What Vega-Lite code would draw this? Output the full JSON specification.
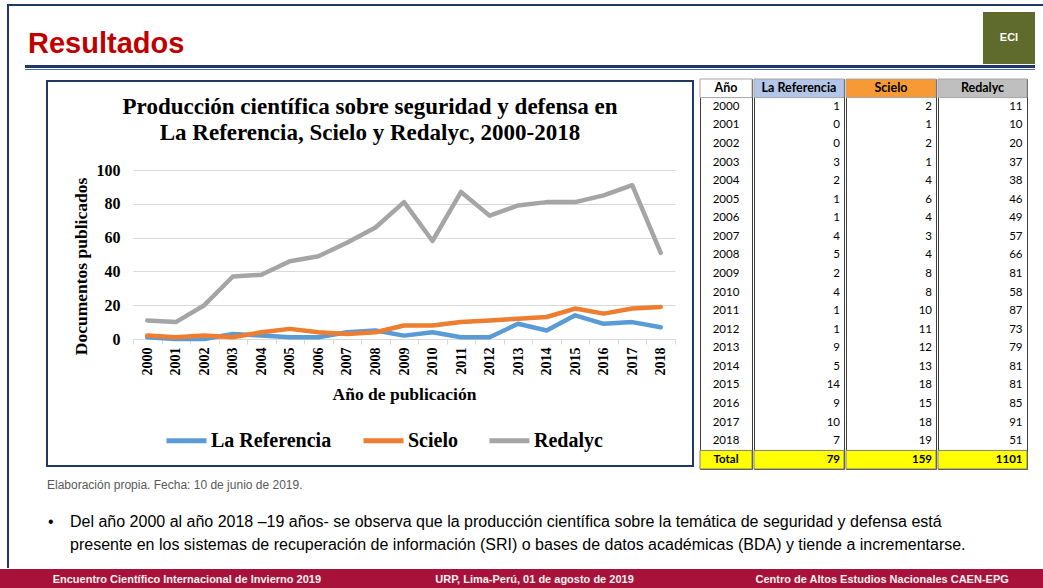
{
 "$schema": "https://vega.github.io/schema/vega-lite/v6.json",
 "padding": 0,
 "background": "#FFFFFF",
 "spacing": 0,
 "config": {"view": {"stroke": null}, "font": "Liberation Sans"},
 "datasets": {
  "produccion": [
   {"Año": "2000", "La Referencia": 1, "Scielo": 2, "Redalyc": 11},
   {"Año": "2001", "La Referencia": 0, "Scielo": 1, "Redalyc": 10},
   {"Año": "2002", "La Referencia": 0, "Scielo": 2, "Redalyc": 20},
   {"Año": "2003", "La Referencia": 3, "Scielo": 1, "Redalyc": 37},
   {"Año": "2004", "La Referencia": 2, "Scielo": 4, "Redalyc": 38},
   {"Año": "2005", "La Referencia": 1, "Scielo": 6, "Redalyc": 46},
   {"Año": "2006", "La Referencia": 1, "Scielo": 4, "Redalyc": 49},
   {"Año": "2007", "La Referencia": 4, "Scielo": 3, "Redalyc": 57},
   {"Año": "2008", "La Referencia": 5, "Scielo": 4, "Redalyc": 66},
   {"Año": "2009", "La Referencia": 2, "Scielo": 8, "Redalyc": 81},
   {"Año": "2010", "La Referencia": 4, "Scielo": 8, "Redalyc": 58},
   {"Año": "2011", "La Referencia": 1, "Scielo": 10, "Redalyc": 87},
   {"Año": "2012", "La Referencia": 1, "Scielo": 11, "Redalyc": 73},
   {"Año": "2013", "La Referencia": 9, "Scielo": 12, "Redalyc": 79},
   {"Año": "2014", "La Referencia": 5, "Scielo": 13, "Redalyc": 81},
   {"Año": "2015", "La Referencia": 14, "Scielo": 18, "Redalyc": 81},
   {"Año": "2016", "La Referencia": 9, "Scielo": 15, "Redalyc": 85},
   {"Año": "2017", "La Referencia": 10, "Scielo": 18, "Redalyc": 91},
   {"Año": "2018", "La Referencia": 7, "Scielo": 19, "Redalyc": 51}
  ],
  "pie": [
   {"posicion": "izquierda", "texto": "Encuentro Científico Internacional de Invierno 2019"},
   {"posicion": "centro", "texto": "URP, Lima-Perú, 01 de agosto de 2019"},
   {"posicion": "derecha", "texto": "Centro de Altos Estudios Nacionales CAEN-EPG"}
  ]
 },
 "vconcat": [
  {"width": 1043, "height": 4, "data": {"values": []}, "mark": "point", "encoding": {}},
  {"hconcat": [
    {"width": 7, "height": 2, "data": {"values": []}, "mark": "point", "encoding": {}},
    {"width": 1036, "height": 2, "view": {"fill": "#1F3864", "stroke": null}, "data": {"values": []}, "mark": "point", "encoding": {}}
   ], "spacing": 0},
  {"hconcat": [
    {"width": 7, "height": 562, "data": {"values": []}, "mark": "point", "encoding": {}},
    {"width": 2, "height": 562, "view": {"fill": "#1F3864", "stroke": null}, "data": {"values": []}, "mark": "point", "encoding": {}},
    {"vconcat": [
      {"hconcat": [
        {"width": 974, "height": 59, "data": {"values": []}, "mark": "point", "encoding": {},
         "title": {"text": "Resultados", "orient": "bottom", "anchor": "start", "frame": "group", "baseline": "top", "offset": -35, "dx": 19, "font": "Liberation Sans", "fontSize": 29, "fontWeight": "bold", "color": "#C00000"}},
        {"vconcat": [
          {"width": 52, "height": 6, "data": {"values": []}, "mark": "point", "encoding": {}},
          {"width": 52, "height": 52, "view": {"fill": "#5E6B2C", "stroke": null},
           "data": {"values": [{"sigla": "ECI"}]},
           "mark": {"type": "text", "font": "Liberation Sans", "fontSize": 11, "fontWeight": "bold", "color": "#FFFFFF"},
           "encoding": {"text": {"field": "sigla"}}}
         ], "spacing": 0}
       ], "spacing": 0},
      {"hconcat": [
        {"width": 16, "height": 3, "data": {"values": []}, "mark": "point", "encoding": {}},
        {"width": 1010, "height": 3, "view": {"fill": "#1F3864", "stroke": null}, "data": {"values": []}, "mark": "point", "encoding": {}}
       ], "spacing": 0},
      {"width": 1, "height": 1, "data": {"values": []}, "mark": "point", "encoding": {}},
      {"hconcat": [
        {"width": 16, "height": 1, "data": {"values": []}, "mark": "point", "encoding": {}},
        {"width": 1010, "height": 1, "view": {"fill": "#4A6DB0", "stroke": null}, "data": {"values": []}, "mark": "point", "encoding": {}}
       ], "spacing": 0},
      {"width": 1, "height": 7, "data": {"values": []}, "mark": "point", "encoding": {}},
      {"hconcat": [
        {"width": 30, "height": 390, "data": {"values": []}, "mark": "point", "encoding": {}},
        {"vconcat": [
          {"width": 646, "height": 1, "data": {"values": []}, "mark": "point", "encoding": {}},
          {"width": 646, "height": 385,
           "view": {"fill": "#FFFFFF", "stroke": "#1F3864", "strokeWidth": 2},
           "title": {"text": ["Producción científica sobre seguridad y defensa en", "La Referencia, Scielo y Redalyc, 2000-2018"], "orient": "bottom", "anchor": "middle", "frame": "group", "baseline": "top", "offset": -370, "lineHeight": 26, "font": "Liberation Serif", "fontSize": 23, "fontWeight": "bold", "color": "#000000"},
           "data": {"name": "produccion"},
           "transform": [{"fold": ["La Referencia", "Scielo", "Redalyc"], "as": ["Serie", "Documentos"]}],
           "mark": {"type": "line", "strokeWidth": 4.5, "strokeCap": "round", "strokeJoin": "round"},
           "encoding": {
            "x": {"field": "Año", "type": "ordinal", "bandPosition": 0.5,
                  "scale": {"type": "band", "range": [86, 628], "paddingInner": 0, "paddingOuter": 0},
                  "axis": {"title": "Año de publicación", "orient": "bottom", "offset": -127, "labelAngle": -90, "labelFont": "Liberation Serif", "labelFontSize": 14, "labelFontWeight": "bold", "labelColor": "#000000", "labelPadding": 3, "tickBand": "extent", "tickSize": 5, "tickColor": "#D9D9D9", "domainColor": "#D9D9D9", "domainWidth": 1, "grid": false, "titleFont": "Liberation Serif", "titleFontSize": 17.5, "titleFontWeight": "bold", "titleColor": "#000000", "titlePadding": 10}},
            "y": {"field": "Documentos", "type": "quantitative",
                  "scale": {"domain": [0, 100], "range": [258, 89], "nice": false},
                  "axis": {"title": "Documentos publicados", "offset": -86, "values": [0, 20, 40, 60, 80, 100], "grid": true, "gridColor": "#D9D9D9", "gridWidth": 1, "domain": false, "ticks": false, "labelPadding": 13, "labelFont": "Liberation Serif", "labelFontSize": 16, "labelFontWeight": "bold", "labelColor": "#000000", "titleFont": "Liberation Serif", "titleFontSize": 17.5, "titleFontWeight": "bold", "titleColor": "#000000", "titlePadding": 6, "titleY": 185}},
            "color": {"field": "Serie", "type": "nominal",
                  "scale": {"domain": ["La Referencia", "Scielo", "Redalyc"], "range": ["#5B9BD5", "#ED7D31", "#A5A5A5"]},
                  "legend": {"orient": "none", "legendX": 164, "legendY": 418, "direction": "horizontal", "title": null, "symbolType": "stroke", "symbolSize": 1600, "symbolStrokeWidth": 5, "labelFont": "Liberation Serif", "labelFontSize": 20, "labelFontWeight": "bold", "labelColor": "#000000", "labelOffset": 2, "columnPadding": 21, "padding": 0, "labelLimit": 300}}
           }}
         ], "spacing": 0},
        {"width": 5, "height": 390, "data": {"values": []}, "mark": "point", "encoding": {}},
        {"hconcat": [
          {"width": 52, "height": 390,
           "view": {"stroke": "#404040", "strokeWidth": 1, "fill": "#FFFFFF"},
           "data": {"name": "produccion"},
           "layer": [
            {"transform": [{"aggregate": [{"op": "count", "as": "n_a"}]}],
             "mark": {"type": "rect", "fill": "#FFFFFF", "stroke": "#A6A6A6", "strokeWidth": 1},
             "encoding": {"y": {"datum": "cabecera", "type": "ordinal", "axis": null}}},
            {"transform": [{"aggregate": [{"op": "count", "as": "n_b"}]}],
             "mark": {"type": "rect", "fill": "#FFFF00", "stroke": "#7F7F7F", "strokeWidth": 1},
             "encoding": {"y": {"datum": "Total", "type": "ordinal", "axis": null}}},
            {"transform": [{"aggregate": [{"op": "count", "as": "n_c"}]}],
             "mark": {"type": "text", "font": "Lato", "fontSize": 12.5, "fontWeight": "bold", "color": "#000000"},
             "encoding": {"y": {"datum": "cabecera", "type": "ordinal", "axis": null}, "text": {"value": "Año"}}},
            {"mark": {"type": "text", "font": "Lato", "fontSize": 11.5, "color": "#000000"},
             "encoding": {"y": {"field": "Año", "type": "ordinal", "axis": null, "scale": {"type": "band", "domain": ["cabecera", "2000", "2001", "2002", "2003", "2004", "2005", "2006", "2007", "2008", "2009", "2010", "2011", "2012", "2013", "2014", "2015", "2016", "2017", "2018", "Total"], "paddingInner": 0, "paddingOuter": 0}}, "text": {"field": "Año"}}},
            {"transform": [{"aggregate": [{"op": "count", "as": "n_d"}]}],
             "mark": {"type": "text", "font": "Lato", "fontSize": 11.5, "fontWeight": "bold", "color": "#000000"},
             "encoding": {"y": {"datum": "Total", "type": "ordinal", "axis": null}, "text": {"value": "Total"}}}
           ]},
          {"width": 90, "height": 390,
           "view": {"stroke": "#404040", "strokeWidth": 1, "fill": "#FFFFFF"},
           "data": {"name": "produccion"},
           "layer": [
            {"transform": [{"aggregate": [{"op": "count", "as": "n_e"}]}],
             "mark": {"type": "rect", "fill": "#B4C6E7", "stroke": "#A6A6A6", "strokeWidth": 1},
             "encoding": {"y": {"datum": "cabecera", "type": "ordinal", "axis": null}}},
            {"transform": [{"aggregate": [{"op": "count", "as": "n_f"}]}],
             "mark": {"type": "rect", "fill": "#FFFF00", "stroke": "#7F7F7F", "strokeWidth": 1},
             "encoding": {"y": {"datum": "Total", "type": "ordinal", "axis": null}}},
            {"transform": [{"aggregate": [{"op": "count", "as": "n_g"}]}],
             "mark": {"type": "text", "font": "Lato", "fontSize": 12.5, "fontWeight": "bold", "color": "#000000"},
             "encoding": {"y": {"datum": "cabecera", "type": "ordinal", "axis": null}, "text": {"value": "La Referencia"}}},
            {"mark": {"type": "text", "font": "Lato", "fontSize": 11.5, "align": "right", "dx": 41, "color": "#000000"},
             "encoding": {"y": {"field": "Año", "type": "ordinal", "axis": null, "scale": {"type": "band", "domain": ["cabecera", "2000", "2001", "2002", "2003", "2004", "2005", "2006", "2007", "2008", "2009", "2010", "2011", "2012", "2013", "2014", "2015", "2016", "2017", "2018", "Total"], "paddingInner": 0, "paddingOuter": 0}}, "text": {"field": "La Referencia", "type": "quantitative", "format": "d"}}},
            {"transform": [{"aggregate": [{"op": "sum", "field": "La Referencia", "as": "total_lr"}]}],
             "mark": {"type": "text", "font": "Lato", "fontSize": 11.5, "fontWeight": "bold", "align": "right", "dx": 41, "color": "#000000"},
             "encoding": {"y": {"datum": "Total", "type": "ordinal", "axis": null}, "text": {"field": "total_lr", "type": "quantitative", "format": "d"}}}
           ]},
          {"width": 90, "height": 390,
           "view": {"stroke": "#404040", "strokeWidth": 1, "fill": "#FFFFFF"},
           "data": {"name": "produccion"},
           "layer": [
            {"transform": [{"aggregate": [{"op": "count", "as": "n_h"}]}],
             "mark": {"type": "rect", "fill": "#F79A35", "stroke": "#A6A6A6", "strokeWidth": 1},
             "encoding": {"y": {"datum": "cabecera", "type": "ordinal", "axis": null}}},
            {"transform": [{"aggregate": [{"op": "count", "as": "n_i"}]}],
             "mark": {"type": "rect", "fill": "#FFFF00", "stroke": "#7F7F7F", "strokeWidth": 1},
             "encoding": {"y": {"datum": "Total", "type": "ordinal", "axis": null}}},
            {"transform": [{"aggregate": [{"op": "count", "as": "n_j"}]}],
             "mark": {"type": "text", "font": "Lato", "fontSize": 12.5, "fontWeight": "bold", "color": "#000000"},
             "encoding": {"y": {"datum": "cabecera", "type": "ordinal", "axis": null}, "text": {"value": "Scielo"}}},
            {"mark": {"type": "text", "font": "Lato", "fontSize": 11.5, "align": "right", "dx": 41, "color": "#000000"},
             "encoding": {"y": {"field": "Año", "type": "ordinal", "axis": null, "scale": {"type": "band", "domain": ["cabecera", "2000", "2001", "2002", "2003", "2004", "2005", "2006", "2007", "2008", "2009", "2010", "2011", "2012", "2013", "2014", "2015", "2016", "2017", "2018", "Total"], "paddingInner": 0, "paddingOuter": 0}}, "text": {"field": "Scielo", "type": "quantitative", "format": "d"}}},
            {"transform": [{"aggregate": [{"op": "sum", "field": "Scielo", "as": "total_sc"}]}],
             "mark": {"type": "text", "font": "Lato", "fontSize": 11.5, "fontWeight": "bold", "align": "right", "dx": 41, "color": "#000000"},
             "encoding": {"y": {"datum": "Total", "type": "ordinal", "axis": null}, "text": {"field": "total_sc", "type": "quantitative", "format": "d"}}}
           ]},
          {"width": 89, "height": 390,
           "view": {"stroke": "#404040", "strokeWidth": 1, "fill": "#FFFFFF"},
           "data": {"name": "produccion"},
           "layer": [
            {"transform": [{"aggregate": [{"op": "count", "as": "n_k"}]}],
             "mark": {"type": "rect", "fill": "#BFBFBF", "stroke": "#A6A6A6", "strokeWidth": 1},
             "encoding": {"y": {"datum": "cabecera", "type": "ordinal", "axis": null}}},
            {"transform": [{"aggregate": [{"op": "count", "as": "n_l"}]}],
             "mark": {"type": "rect", "fill": "#FFFF00", "stroke": "#7F7F7F", "strokeWidth": 1},
             "encoding": {"y": {"datum": "Total", "type": "ordinal", "axis": null}}},
            {"transform": [{"aggregate": [{"op": "count", "as": "n_m"}]}],
             "mark": {"type": "text", "font": "Lato", "fontSize": 12.5, "fontWeight": "bold", "color": "#000000"},
             "encoding": {"y": {"datum": "cabecera", "type": "ordinal", "axis": null}, "text": {"value": "Redalyc"}}},
            {"mark": {"type": "text", "font": "Lato", "fontSize": 11.5, "align": "right", "dx": 40, "color": "#000000"},
             "encoding": {"y": {"field": "Año", "type": "ordinal", "axis": null, "scale": {"type": "band", "domain": ["cabecera", "2000", "2001", "2002", "2003", "2004", "2005", "2006", "2007", "2008", "2009", "2010", "2011", "2012", "2013", "2014", "2015", "2016", "2017", "2018", "Total"], "paddingInner": 0, "paddingOuter": 0}}, "text": {"field": "Redalyc", "type": "quantitative", "format": "d"}}},
            {"transform": [{"aggregate": [{"op": "sum", "field": "Redalyc", "as": "total_re"}]}],
             "mark": {"type": "text", "font": "Lato", "fontSize": 11.5, "fontWeight": "bold", "align": "right", "dx": 40, "color": "#000000"},
             "encoding": {"y": {"datum": "Total", "type": "ordinal", "axis": null}, "text": {"field": "total_re", "type": "quantitative", "format": "d"}}}
           ]}
         ], "spacing": 0}
       ], "spacing": 0},
      {"hconcat": [
        {"width": 38, "height": 24, "data": {"values": []}, "mark": "point", "encoding": {}},
        {"width": 600, "height": 24, "data": {"values": []}, "mark": "point", "encoding": {},
         "title": {"text": "Elaboración propia. Fecha: 10 de junio de 2019.", "orient": "bottom", "anchor": "start", "frame": "group", "baseline": "top", "offset": -14.5, "font": "Liberation Sans", "fontSize": 12, "fontWeight": "normal", "color": "#595959"}}
       ], "spacing": 0},
      {"hconcat": [
        {"width": 39, "height": 75, "data": {"values": []}, "mark": "point", "encoding": {}},
        {"width": 22, "height": 75, "data": {"values": []}, "mark": "point", "encoding": {},
         "title": {"text": "•", "orient": "bottom", "anchor": "start", "frame": "group", "baseline": "top", "offset": -55.5, "font": "Liberation Sans", "fontSize": 16, "fontWeight": "normal", "color": "#000000"}},
        {"width": 941, "height": 75, "data": {"values": []}, "mark": "point", "encoding": {},
         "title": {"text": ["Del año 2000 al año 2018 –19 años- se observa que la producción científica sobre la temática de seguridad y defensa está", "presente en los sistemas de recuperación de información (SRI) o bases de datos académicas (BDA) y tiende a incrementarse."], "orient": "bottom", "anchor": "start", "frame": "group", "baseline": "top", "offset": -55.5, "lineHeight": 23, "font": "Liberation Sans", "fontSize": 16, "fontWeight": "normal", "color": "#000000"}}
       ], "spacing": 0}
     ], "spacing": 0}
   ], "spacing": 0},
  {"width": 1043, "height": 19,
   "view": {"fill": "#A8123A", "stroke": null},
   "data": {"name": "pie"},
   "mark": {"type": "text", "font": "Liberation Sans", "fontSize": 11, "fontWeight": "bold", "color": "#F2F2F2", "dx": 13, "dy": 1},
   "encoding": {
    "x": {"field": "posicion", "type": "nominal", "sort": null, "axis": null, "scale": {"type": "band", "paddingInner": 0, "paddingOuter": 0}},
    "text": {"field": "texto"}
   }}
 ]
}
